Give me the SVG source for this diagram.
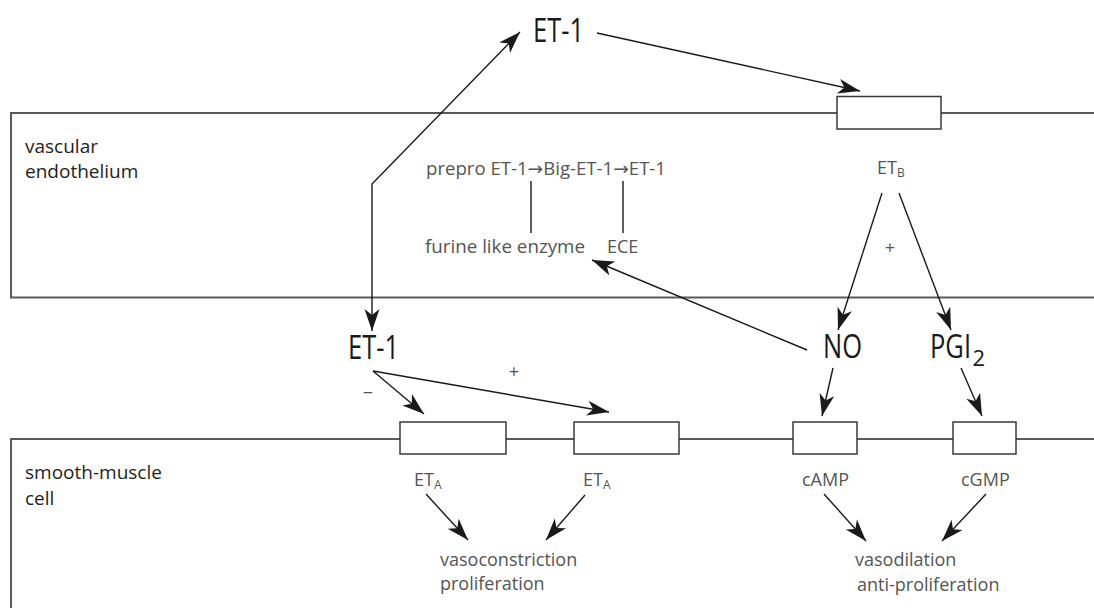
<svg xmlns="http://www.w3.org/2000/svg" width="1094" height="608" viewBox="0 0 1094 608">
<defs>
<marker id="ah" markerUnits="userSpaceOnUse" viewBox="-23 -8 25 16" refX="0" refY="0" markerWidth="25" markerHeight="16" orient="auto-start-reverse">
<path d="M0,0 L-22,-7.5 L-16,0 L-22,7.5 Z" fill="#1a1a1a"/>
</marker>
<style>
.panel{fill:none;stroke:#5a5a5a;stroke-width:2}
.rec{fill:#fff;stroke:#3a3a3a;stroke-width:1.5}
.con{fill:none;stroke:#1a1a1a;stroke-width:1.4}
.arr{marker-end:url(#ah)}
.big{font-family:"Open Sans","Noto Sans",sans-serif;font-size:32px;fill:#1a1a1a}
.bigsub{font-family:"Open Sans","Noto Sans",sans-serif;font-size:22px;fill:#1a1a1a}
.sm{font-family:"Open Sans","Noto Sans",sans-serif;font-size:18px;fill:#555}
.lab{font-family:"Open Sans","Noto Sans",sans-serif;font-size:19px;fill:#1e1e1e}
.sub{font-size:12px}
.ar{font-family:"DejaVu Sans",sans-serif}
</style>
</defs>
<g id="panels">
<path class="panel" d="M1094,113 H11 V297.5 H1094"/>
<path class="panel" d="M1094,439 H11 V608"/>
</g>
<g id="connectors">
<path class="con" d="M520,32 L372,184 L372,331" marker-start="url(#ah)" marker-end="url(#ah)"/>
<path class="con arr" d="M597,33 L860,91"/>
<path class="con arr" d="M882,193 L838,330"/>
<path class="con arr" d="M899,193 L951,330"/>
<path class="con arr" d="M807,350 L592,260"/>
<path class="con arr" d="M373,371 L424,414"/>
<path class="con arr" d="M373,371 L609,412"/>
<path class="con arr" d="M833,368 L822,416"/>
<path class="con arr" d="M961,368 L982,416"/>
<path class="con arr" d="M426,494 L468,540"/>
<path class="con arr" d="M585,495 L546,540"/>
<path class="con arr" d="M824,494 L866,541"/>
<path class="con arr" d="M986,494 L942,541"/>
<path class="con" d="M531,181 V233 M623,181 V233" stroke="#444"/>
</g>
<g id="receptor-ETB"><rect class="rec" x="837" y="96.5" width="104" height="32.5"/></g>
<g id="receptor-ETA1"><rect class="rec" x="400" y="422" width="106" height="32"/></g>
<g id="receptor-ETA2"><rect class="rec" x="574" y="422" width="105" height="32"/></g>
<g id="receptor-cAMP"><rect class="rec" x="793" y="422" width="64" height="32"/></g>
<g id="receptor-cGMP"><rect class="rec" x="953" y="422" width="63" height="32"/></g>
<g id="label-endothelium">
<text class="lab" x="25" y="153">vascular</text>
<text class="lab" x="25" y="178">endothelium</text>
</g>
<g id="label-smooth-muscle">
<text class="lab" x="25" y="479">smooth-muscle</text>
<text class="lab" x="25" y="505">cell</text>
</g>
<g id="node-ET1-top"><text class="big" x="533" y="42" textLength="51" lengthAdjust="spacingAndGlyphs">ET-1</text></g>
<g id="node-ET1-low"><text class="big" x="348" y="359" textLength="51" lengthAdjust="spacingAndGlyphs">ET-1</text></g>
<g id="node-NO"><text class="big" x="823" y="358" textLength="39" lengthAdjust="spacingAndGlyphs">NO</text></g>
<g id="node-PGI2">
<text class="big" x="930" y="358" textLength="41" lengthAdjust="spacingAndGlyphs">PGI</text>
<text class="bigsub" x="972.5" y="366">2</text>
</g>
<g id="synthesis">
<text class="sm" x="426" y="175" textLength="240" lengthAdjust="spacingAndGlyphs">prepro ET-1<tspan class="ar">→</tspan>Big-ET-1<tspan class="ar">→</tspan>ET-1</text>
<text class="sm" x="425" y="253" textLength="160" lengthAdjust="spacingAndGlyphs">furine like enzyme</text>
<text class="sm" x="607" y="253">ECE</text>
</g>
<g id="label-ETB"><text class="sm" x="877" y="174">ET<tspan class="sub" dy="3">B</tspan></text></g>
<g id="signs">
<text class="sm" x="890" y="254" text-anchor="middle">+</text>
<text class="sm" x="514" y="378" text-anchor="middle">+</text>
<text class="sm" x="368" y="399" text-anchor="middle">−</text>
</g>
<g id="label-ETA1"><text class="sm" x="414" y="486">ET<tspan class="sub" dy="3">A</tspan></text></g>
<g id="label-ETA2"><text class="sm" x="583" y="486">ET<tspan class="sub" dy="3">A</tspan></text></g>
<g id="label-cAMP"><text class="sm" x="802" y="486">cAMP</text></g>
<g id="label-cGMP"><text class="sm" x="961" y="486">cGMP</text></g>
<g id="effect-constriction">
<text class="sm" x="440" y="566">vasoconstriction</text>
<text class="sm" x="440" y="590">proliferation</text>
</g>
<g id="effect-dilation">
<text class="sm" x="855" y="566">vasodilation</text>
<text class="sm" x="857" y="591">anti-proliferation</text>
</g>
</svg>
